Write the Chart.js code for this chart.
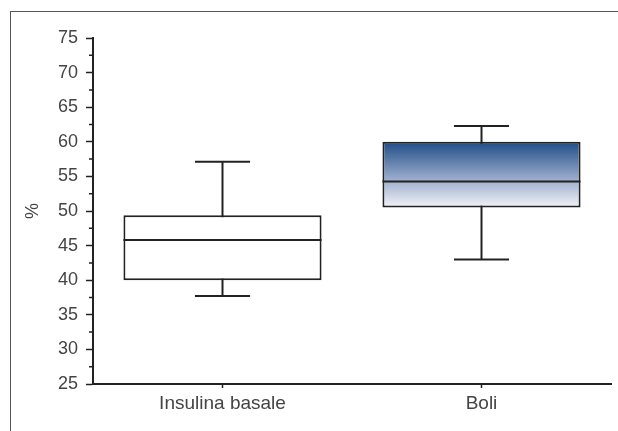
<!DOCTYPE html>
<html>
<head>
<meta charset="utf-8">
<script src="https://cdn.jsdelivr.net/npm/chart.js@4"></script>
<style>
html, body { margin: 0; padding: 0; background: #fff; overflow: hidden; }
#wrap { position: relative; width: 618px; height: 431px; }
#frame { position: absolute; left: 10px; top: 11px; width: 640px; height: 440px; border-left: 1.5px solid #555; border-top: 1.5px solid #555; }
#boxChart { position: absolute; left: 0; top: 0; }
</style>
</head>
<body>
<div id="wrap"><div id="frame"></div><canvas id="boxChart"></canvas></div>
<script>
const categories = ['Insulina basale', 'Boli'];
const minValues = [37.7, 43.0];
const q1Values = [40.0, 50.5];
const medianValues = [45.8, 54.25];
const q3Values = [49.4, 60.0];
const maxValues = [57.1, 62.3];
const minorTicks = [27.5, 32.5, 37.5, 42.5, 47.5, 52.5, 57.5, 62.5, 67.5, 72.5];

const lineColor = '#222';
const textColor = '#444';
const font = { family: 'Liberation Sans', size: 18 };

// whiskers, caps, minor ticks and medians, placed with the chart's scales
const boxPlugin = {
    id: 'boxPlugin',
    beforeDatasetsDraw(chart) {
        const ctx = chart.ctx;
        const y = chart.scales.y;
        const meta = chart.getDatasetMeta(0);
        ctx.save();
        ctx.strokeStyle = lineColor;
        ctx.lineWidth = 2;
        ctx.beginPath();
        meta.data.forEach((bar, i) => {
            const cx = bar.x;
            const half = bar.width * 0.139;
            const yMin = y.getPixelForValue(minValues[i]);
            const yMax = y.getPixelForValue(maxValues[i]);
            ctx.moveTo(cx, yMin);
            ctx.lineTo(cx, yMax);
            ctx.moveTo(cx - half, yMin);
            ctx.lineTo(cx + half, yMin);
            ctx.moveTo(cx - half, yMax);
            ctx.lineTo(cx + half, yMax);
        });
        ctx.stroke();
        ctx.lineWidth = 1.5;
        ctx.beginPath();
        minorTicks.forEach(v => {
            const py = y.getPixelForValue(v);
            ctx.moveTo(y.right - 4, py);
            ctx.lineTo(y.right, py);
        });
        ctx.stroke();
        ctx.restore();
    },
    afterDatasetsDraw(chart) {
        const ctx = chart.ctx;
        const y = chart.scales.y;
        const meta = chart.getDatasetMeta(0);
        ctx.save();
        ctx.strokeStyle = lineColor;
        ctx.lineWidth = 2;
        ctx.beginPath();
        meta.data.forEach((bar, i) => {
            const py = y.getPixelForValue(medianValues[i]);
            ctx.moveTo(bar.x - bar.width / 2, py);
            ctx.lineTo(bar.x + bar.width / 2, py);
        });
        ctx.stroke();
        ctx.restore();
    }
};

function boxFill(context) {
    const chart = context.chart;
    if (context.dataIndex === 0 || !chart.chartArea) {
        return '#ffffff';
    }
    const y = chart.scales.y;
    const i = context.dataIndex;
    const g = chart.ctx.createLinearGradient(0, y.getPixelForValue(q3Values[i]), 0, y.getPixelForValue(q1Values[i]));
    g.addColorStop(0, '#1f4d87');
    g.addColorStop(0.55, '#97a9cb');
    g.addColorStop(1, '#f2f3f7');
    return g;
}

const ctx = document.getElementById('boxChart').getContext('2d');
new Chart(ctx, {
    type: 'bar',
    data: {
        labels: categories,
        datasets: [{
            data: categories.map((c, i) => [q1Values[i], q3Values[i]]),
            backgroundColor: boxFill,
            borderColor: lineColor,
            borderWidth: 2,
            borderSkipped: false,
            barPercentage: 0.765,
            categoryPercentage: 1
        }]
    },
    options: {
        responsive: true,
        maintainAspectRatio: false,
        animation: false,
        layout: { padding: { top: 38, right: 7, bottom: 0, left: 0 } },
        plugins: {
            legend: { display: false },
            tooltip: { enabled: false }
        },
        scales: {
            x: {
                grid: { offset: false, drawOnChartArea: false, tickLength: 4, tickColor: lineColor, tickWidth: 1.5 },
                border: { color: lineColor, width: 2 },
                ticks: { color: textColor, font: { family: 'Liberation Sans', size: 19 }, padding: 4 },
                afterFit(scale) { scale.height = 47; }
            },
            y: {
                min: 25,
                max: 75,
                ticks: { stepSize: 5, color: textColor, font: font, padding: 8 },
                grid: { drawOnChartArea: false, tickLength: 7, tickColor: lineColor, tickWidth: 1.5 },
                border: { color: lineColor, width: 2 },
                title: { display: true, text: '%', color: textColor, font: font, padding: { top: 22, bottom: 0 } },
                afterFit(scale) { scale.width = 93; }
            }
        }
    },
    plugins: [boxPlugin]
});
</script>
</body>
</html>
